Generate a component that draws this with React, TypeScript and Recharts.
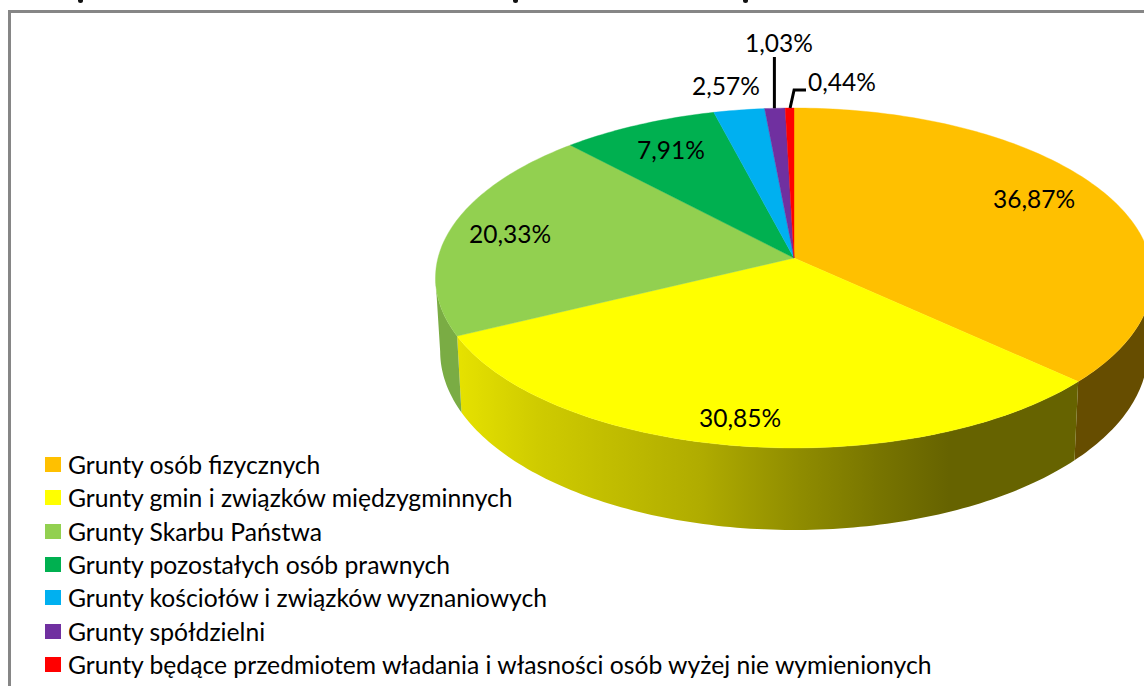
import * as React from "react";
import { Cell, Legend, Pie, PieChart } from "recharts";

const CATEGORIES = [
  "Grunty osób fizycznych",
  "Grunty gmin i związków międzygminnych",
  "Grunty Skarbu Państwa",
  "Grunty pozostałych osób prawnych",
  "Grunty kościołów i związków wyznaniowych",
  "Grunty spółdzielni",
  "Grunty będące przedmiotem władania i własności osób wyżej nie wymienionych",
];
const VALUES = [36.87, 30.85, 20.33, 7.91, 2.57, 1.03, 0.44];
const COLORS = ["#FFC000", "#FFFF00", "#92D050", "#00B050", "#00B0F0", "#7030A0", "#FF0000"];
const WALL_COLORS = ["#664D00", "url(#yellowWall)", "#7AAC44", "#007030", "#0070A0", "#4A2070", "#A00000"];

// label centres, the pie itself comes out of the scales
const LABEL_ANCHORS = [
  [1034, 198],
  [740, 417],
  [510, 233],
  [671, 149],
  [726, 85],
  [779, 42],
  [842, 81],
];

// the title is cropped away, all that is left are three descender tips
const TITLE_TIPS = [78, 513, 743];

const data = CATEGORIES.map((name, i) => ({ name, value: VALUES[i] }));

// flattened disc with a bit of perspective
const TILT = 0.4708;
const PERSPECTIVE = 0.1176;
const DEPTH = 72.4;
const BOTTOM_SCALE = 0.987;
const RAD = Math.PI / 180;

const project = (cx: number, cy: number, r: number, angle: number, bottom = false) => {
  const u = Math.cos(angle * RAD);
  const v = Math.sin(angle * RAD);
  const k = 1 + PERSPECTIVE * v;
  const x = cx + ((bottom ? BOTTOM_SCALE : 1) * r * u) / k;
  const y = cy - (r * TILT * v) / k + (bottom ? DEPTH / k : 0);
  return [x, y];
};

const arcPoints = (cx: number, cy: number, r: number, from: number, to: number, bottom = false) => {
  const steps = Math.max(2, Math.ceil(Math.abs(to - from)));
  const pts: number[][] = [];
  for (let i = 0; i <= steps; i++) {
    pts.push(project(cx, cy, r, from + ((to - from) * i) / steps, bottom));
  }
  return pts;
};

const toPath = (pts: number[][]) =>
  pts.map((p, i) => `${i ? "L" : "M"}${p[0].toFixed(2)} ${p[1].toFixed(2)}`).join(" ");

// only the front of the wall shows: angles where sin(angle) < -PERSPECTIVE
const FRONT_FROM = -180 - Math.asin(-PERSPECTIVE) / RAD;
const FRONT_TO = Math.asin(-PERSPECTIVE) / RAD;

const PieSlice = (props: any) => {
  const { cx, cy, outerRadius, startAngle, endAngle, fill, index } = props;
  const hi = Math.max(startAngle, endAngle);
  const lo = Math.min(startAngle, endAngle);
  const top = arcPoints(cx, cy, outerRadius, hi, lo);

  // angles run 90 .. -270, the front part lies between about -173 and -7
  const wallHi = Math.min(hi, FRONT_TO);
  const wallLo = Math.max(lo, FRONT_FROM);
  let wall: React.ReactNode = null;
  if (wallHi > wallLo) {
    const upper = arcPoints(cx, cy, outerRadius, wallHi, wallLo);
    const lower = arcPoints(cx, cy, outerRadius, wallLo, wallHi, true);
    wall = <path d={`${toPath(upper)} ${toPath(lower).replace("M", "L")} Z`} fill={WALL_COLORS[index]} />;
  }

  return (
    <g>
      {index === 1 && (
        <defs>
          <linearGradient id="yellowWall" gradientUnits="userSpaceOnUse" x1={457} y1={0} x2={1080} y2={0}>
            <stop offset="0" stopColor="#E6E200" />
            <stop offset="0.13" stopColor="#CFCB00" />
            <stop offset="0.39" stopColor="#B0AC00" />
            <stop offset="0.55" stopColor="#8F8C00" />
            <stop offset="0.68" stopColor="#777400" />
            <stop offset="0.79" stopColor="#666300" />
            <stop offset="1" stopColor="#666300" />
          </linearGradient>
        </defs>
      )}
      {wall}
      <path d={`M${cx} ${cy} ${toPath(top).replace("M", "L")} Z`} fill={fill} stroke={fill} strokeWidth={0.4} />
    </g>
  );
};

const SliceLabel = (props: any) => {
  const { index, cx, cy, outerRadius, midAngle } = props;
  const [lx, ly] = LABEL_ANCHORS[index];
  const [ex, ey] = project(cx, cy, outerRadius, midAngle);
  return (
    <g>
      {index === 5 && <path d={`M${ex - 0.5} ${ey} V${ly + 15}`} fill="none" stroke="#000" strokeWidth={3} />}
      {index === 6 && (
        <path d={`M${ex + 0.5} ${ey} L${ex + 4.5} ${ly + 9} H${lx - 36}`} fill="none" stroke="#000" strokeWidth={3} />
      )}
      <text
        x={lx}
        y={ly}
        textAnchor="middle"
        dominantBaseline="central"
        fontFamily="Lato, sans-serif"
        fontSize={24.5}
        fill="#000"
      >
        {VALUES[index].toFixed(2).replace(".", ",")}%
      </text>
    </g>
  );
};

const LegendList = () => (
  <div style={{ fontFamily: "Lato, sans-serif", fontSize: 24.7, color: "#000" }}>
    {CATEGORIES.map((name, i) => (
      <div key={name} style={{ display: "flex", alignItems: "center", height: 33.33, whiteSpace: "nowrap" }}>
        <span style={{ width: 16, height: 15, background: COLORS[i], marginRight: 7, flex: "none" }} />
        {name}
      </div>
    ))}
  </div>
);

export default function App() {
  return (
    <div
      style={{
        position: "absolute",
        left: 0,
        top: 0,
        width: 1144,
        height: 686,
        overflow: "hidden",
        background: "#fff",
      }}
    >
      {TITLE_TIPS.map((x) => (
        <div
          key={x}
          style={{
            position: "absolute",
            left: x,
            top: 0,
            width: 5,
            height: 3,
            background: "#111",
            borderRadius: "0 0 3px 3px",
          }}
        />
      ))}
      <div
        style={{
          position: "absolute",
          left: 8,
          top: 10,
          width: 1300,
          height: 800,
          border: "3px solid #868686",
        }}
      />
      <PieChart
        width={1144}
        height={686}
        margin={{ top: 0, right: 0, bottom: 0, left: 0 }}
        style={{ position: "absolute", left: 0, top: 0 }}
      >
        <Pie
          data={data}
          dataKey="value"
          nameKey="name"
          cx={794}
          cy={258}
          outerRadius={356}
          startAngle={90}
          endAngle={-270}
          stroke="none"
          isAnimationActive={false}
          shape={PieSlice}
          label={SliceLabel}
          labelLine={false}
        >
          {data.map((entry, i) => (
            <Cell key={entry.name} fill={COLORS[i]} />
          ))}
        </Pie>
        <Legend
          content={LegendList}
          layout="horizontal"
          align="left"
          verticalAlign="bottom"
          wrapperStyle={{ left: 45, top: 448, bottom: "auto", width: 1000 }}
        />
      </PieChart>
    </div>
  );
}
